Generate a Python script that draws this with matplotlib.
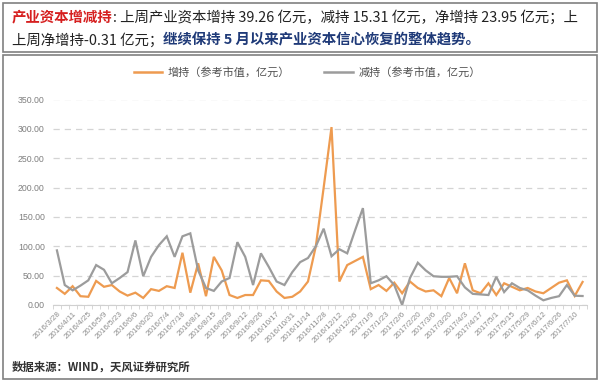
import matplotlib
matplotlib.use("Agg")
import matplotlib.pyplot as plt
from matplotlib.patches import Rectangle
from matplotlib.lines import Line2D
import datetime as dt

plt.rcParams['font.family'] = ['Noto Sans CJK SC', 'DejaVu Sans']

# ---- data ----
start = dt.date(2016, 3, 28)
dates = []
d = start
while d <= dt.date(2017, 7, 17):
    if d != dt.date(2016, 10, 3):
        dates.append(d)
    d += dt.timedelta(days=7)
labels = [f"{x.year}/{x.month}/{x.day}" for x in dates]

increase = [29, 19, 32, 15, 14, 41, 31, 34, 23, 16,
            21, 12, 27, 24, 32, 29, 89, 21, 71, 15,
            82, 59, 17, 12, 17, 17, 42, 41, 23, 12,
            14, 23, 40, 100, 200, 303, 40, 68, 75, 82,
            27, 34, 24, 38, 20, 40, 29, 23, 25, 15,
            46, 20, 71, 25, 20, 37, 17, 37, 31, 25,
            29, 23, 20, 29, 38, 42, 15.5, 39.26]
decrease = [93, 34, 25, 33, 42, 68, 60, 37, 46, 56,
            110, 49, 82, 102, 117, 82, 117, 122, 59, 29,
            24, 40, 46, 107, 82, 34, 88, 65, 40, 34,
            56, 73, 80, 100, 130, 83, 95, 88, 127, 165,
            37, 42, 49, 34, 0, 46, 72, 59, 49, 48,
            48, 49, 30, 19, 18, 17, 48, 22, 37, 29,
            25, 16, 8, 12, 15, 34, 15.8, 15.31]
yticks = [0, 50, 100, 150, 200, 250, 300, 350]
legend_labels = ["增持（参考市值，亿元）", "减持（参考市值，亿元）"]

W, H = 600, 382
fig = plt.figure(figsize=(W / 100, H / 100), dpi=100)

def fx(px):
    return px / W

def fy(py):
    return 1 - py / H

# boxes
for (x0, y0, x1, y1) in [(3, 3, 597, 52), (3, 55, 597, 379)]:
    fig.patches.append(Rectangle((fx(x0), fy(y1)), fx(x1 - x0), (y1 - y0) / H,
                                 transform=fig.transFigure, fill=False,
                                 edgecolor='#808080', linewidth=1.2))

# axes
ax = fig.add_axes([fx(53), fy(305), fx(533.5), (305 - 99.5) / H])
xs = list(range(len(dates)))
orange = '#EE9B50'
gray = '#9C9C9C'
ax.plot(xs, increase, color=orange, linewidth=1.6, solid_joinstyle='miter')
ax.plot(xs, decrease, color=gray, linewidth=1.6, solid_joinstyle='miter')
ax.set_xlim(-0.5, len(dates) - 0.5)
ax.set_ylim(0, 350)
ax.set_yticks(yticks)
ax.set_yticklabels([f"{v:.2f}" for v in yticks], fontsize=6.3, color='#7f7f7f',
                   family=['Liberation Sans', 'DejaVu Sans'])
ax.yaxis.grid(True, linestyle=(0, (5, 4)), color='#d4d4d4', linewidth=0.9)
ax.set_axisbelow(True)
for s in ['left', 'right', 'top']:
    ax.spines[s].set_visible(False)
ax.spines['bottom'].set_color('#d0d0d0')
ax.tick_params(axis='y', length=0, pad=6)
ax.set_xticks(xs[::2])
ax.set_xticklabels(labels[::2], rotation=45, ha='right', rotation_mode='anchor',
                   fontsize=5.8, color='#8c8c8c', family=['Liberation Sans', 'DejaVu Sans'])
ax.set_xticks([x - 0.5 for x in xs] + [len(xs) - 0.5], minor=True)
ax.tick_params(axis='x', which='major', length=0, pad=4)
ax.tick_params(axis='x', which='minor', length=3, color='#d0d0d0')

# legend
handles = [Line2D([], [], color=orange, linewidth=1.8), Line2D([], [], color=gray, linewidth=1.8)]
fig.legend(handles, legend_labels, loc='center', bbox_to_anchor=(fx(307), fy(72)),
           ncol=2, frameon=False, fontsize=8, handlelength=2.6, columnspacing=3.0,
           handletextpad=0.5, labelcolor='#505050')

# rich header text
renderer = fig.canvas.get_renderer()

def rich(x_px, y_px, pieces, size):
    x = x_px
    for text, color, weight in pieces:
        t = fig.text(fx(x), fy(y_px), text, color=color, fontsize=size,
                     fontweight=weight, va='center', ha='left')
        bb = t.get_window_extent(renderer)
        x = bb.x1 * (100 / fig.dpi)

rich(12, 17, [("产业资本增减持", '#d62020', 'bold'),
              (": 上周产业资本增持 39.26 亿元，减持 15.31 亿元，净增持 23.95 亿元；上", '#222222', 'normal')], 10.4)
rich(12, 40, [("上周净增持-0.31 亿元；", '#222222', 'normal'),
              ("继续保持 5 月以来产业资本信心恢复的整体趋势。", '#1f3a78', 'bold')], 10.4)

fig.text(fx(12), fy(367), "数据来源：WIND，天风证券研究所", fontsize=8.2, fontweight='bold',
         style='italic', color='#333333', va='center', ha='left')

fig.savefig("out.png", dpi=100)
